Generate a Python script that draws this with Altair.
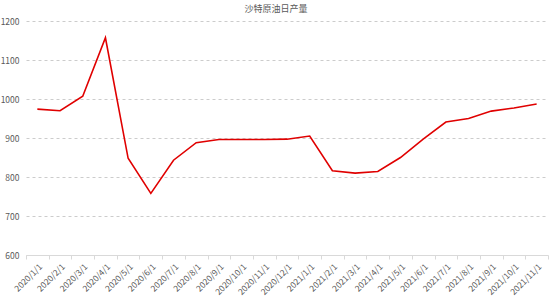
import altair as alt
import pandas as pd

months = ["2020/1/1","2020/2/1","2020/3/1","2020/4/1","2020/5/1","2020/6/1","2020/7/1",
          "2020/8/1","2020/9/1","2020/10/1","2020/11/1","2020/12/1","2021/1/1","2021/2/1",
          "2021/3/1","2021/4/1","2021/5/1","2021/6/1","2021/7/1","2021/8/1","2021/9/1",
          "2021/10/1","2021/11/1"]
values = [974, 970, 1007, 1157, 848, 758, 843, 888, 896, 896, 896, 897, 905, 816,
          810, 814, 850, 897, 941, 950, 969, 977, 987]

df = pd.DataFrame({"month": months, "value": values})

FONT = "Noto Sans CJK SC"

chart = alt.Chart(df).mark_line(color="#e00000", strokeWidth=1.6).encode(
    x=alt.X("month:O", sort=months, bandPosition=0.5,
            scale=alt.Scale(type="band", paddingInner=0, paddingOuter=0),
            axis=alt.Axis(title=None, labelAngle=-45, tickBand="extent",
                          domainColor="#d9d9d9", tickColor="#d9d9d9", tickSize=4,
                          labelColor="#595959", labelFontSize=8.5, labelFont=FONT,
                          labelPadding=3, grid=False)),
    y=alt.Y("value:Q", scale=alt.Scale(domain=[600, 1200], nice=False),
            axis=alt.Axis(title=None, values=[600,700,800,900,1000,1100,1200],
                          format="d",
                          domain=False, ticks=False, labelColor="#595959",
                          labelFontSize=8.5, labelFont=FONT, labelPadding=7,
                          gridColor="#bfbfbf", gridDash=[3, 3], gridWidth=0.8)),
).properties(
    width=522, height=234,
    title=alt.TitleParams("沙特原油日产量", fontSize=9, font=FONT, color="#595959",
                          fontWeight="normal", anchor="middle", offset=3, dx=-11),
    autosize=alt.AutoSizeParams(type="none"),
    padding={"left": 26, "top": 21, "right": 2, "bottom": 42},
).configure_view(stroke=None)

chart.save("out.html", embed_options={"renderer": "svg", "actions": False})
